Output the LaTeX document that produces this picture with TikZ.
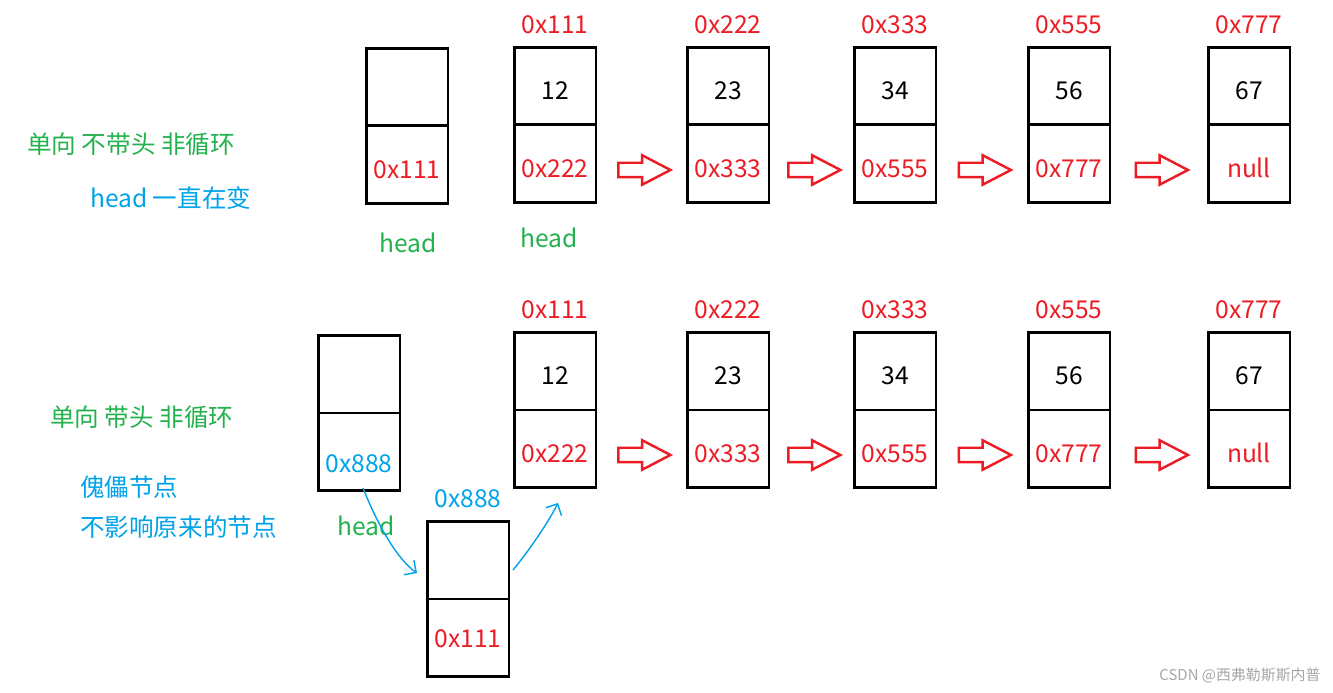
\documentclass[tikz,border=0pt]{standalone}
\usepackage{fontspec}
\usepackage{tikz}
\usetikzlibrary{arrows.meta, calc, positioning, shapes.arrows}
\newfontfamily\cjk{Noto Sans CJK SC}
\definecolor{linkred}{RGB}{237,28,36}
\definecolor{notegreen}{RGB}{34,177,76}
\definecolor{noteblue}{RGB}{0,162,232}

\begin{document}
\begin{tikzpicture}[x=0.02cm, y=-0.02cm,
  every node/.style={font=\cjk\fontsize{14}{16}\selectfont},
  cell/.style={draw, line width=1.7pt, minimum width=1.64cm, minimum height=1.56cm, inner sep=0pt, outer sep=0pt},
  low/.style={text height=#1, text depth=0pt},
  low/.default=15pt,
  ptr/.style={cell, low, text=linkred},
  addr/.style={text=linkred, above=4pt of #1},
  note/.style={text=notegreen, anchor=west},
  tip/.style={text=noteblue, anchor=west},
  hollow/.style={single arrow, draw=linkred, line width=1.4pt, inner sep=0.12cm,
    minimum height=1.04cm, single arrow head extend=0.15cm, single arrow tip angle=55},
  link/.style={noteblue, line width=0.8pt, -{Straight Barb[length=5pt, width=10pt]}}]
  \useasboundingbox (0,0) rectangle (1333,693);

  % without head
  \node[note] (n1) at (21,144) {单向 不带头 非循环};
  \node[tip] (n2) at (84,198) {head 一直在变};
  \node[cell] (h1t) at (407,87) {};
  \node[ptr, below=0pt of h1t] (h1b) {0x111};
  \node[text=notegreen] (hd1) at (408,243) {head};
  \foreach \i/\x/\v/\p/\a in {1/555/12/0x222/0x111, 2/728/23/0x333/0x222,
      3/895/34/0x555/0x333, 4/1069/56/0x777/0x555, 5/1249/67/null/0x777} {
    \node[cell, low] (u\i t) at (\x,86) {\v};
    \node[ptr, below=0pt of u\i t] (u\i b) {\p};
    \node[addr=u\i t] (ua\i) {\a};
  }
  \node[text=notegreen] (hd2) at (549,238) {head};
  \foreach \i/\j in {1/2, 2/3, 3/4, 4/5}
    \node[hollow] (ur\i) at ($(u\i b.east)!0.5!(u\j b.west)+(-4,6)$) {};

  % with head
  \node[note] (n3) at (44,417) {单向 带头 非循环};
  \node[tip] (n4) at (74,487) {傀儡节点};
  \node[tip] (n5) at (74,527) {不影响原来的节点};
  \node[cell] (h2t) at (359,374) {};
  \node[cell, low=23pt, text=noteblue, below=0pt of h2t] (h2b) {0x888};
  \node[text=notegreen] (hd3) at (366,526) {head};
  \foreach \i/\x/\v/\p/\a in {1/555/12/0x222/0x111, 2/728/23/0x333/0x222,
      3/895/34/0x555/0x333, 4/1069/56/0x777/0x555, 5/1249/67/null/0x777} {
    \node[cell, low] (l\i t) at (\x,371) {\v};
    \node[ptr, below=0pt of l\i t] (l\i b) {\p};
    \node[addr=l\i t] (la\i) {\a};
  }
  \foreach \i/\j in {1/2, 2/3, 3/4, 4/5}
    \node[hollow] (lr\i) at ($(l\i b.east)!0.5!(l\j b.west)+(-4,6)$) {};

  % dummy node
  \node[cell] (d1t) at (468,560) {};
  \node[ptr, low=10.5pt, below=0pt of d1t] (d1b) {0x111};
  \node[text=noteblue, above=4pt of d1t] (da1) {0x888};

  \coordinate (s1) at ($(h2b.south)+(4,-3)$);
  \coordinate (e1) at ($(d1t.west)+(-10,13)$);
  \coordinate (s2) at ($(d1t.east)+(4,10)$);
  \coordinate (e2) at ($(l1b.south)+(3,15)$);
  \draw[link] (s1) .. controls +(15,38) and +(-19,-13) .. (e1);
  \draw[link] (s2) .. controls +(15,-18) and +(-10,20) .. (e2);

  \node[text=black!35, font=\cjk\fontsize{8.5}{10}\selectfont] (wm) at (1240,675) {CSDN @西弗勒斯斯内普};
\end{tikzpicture}
\end{document}
